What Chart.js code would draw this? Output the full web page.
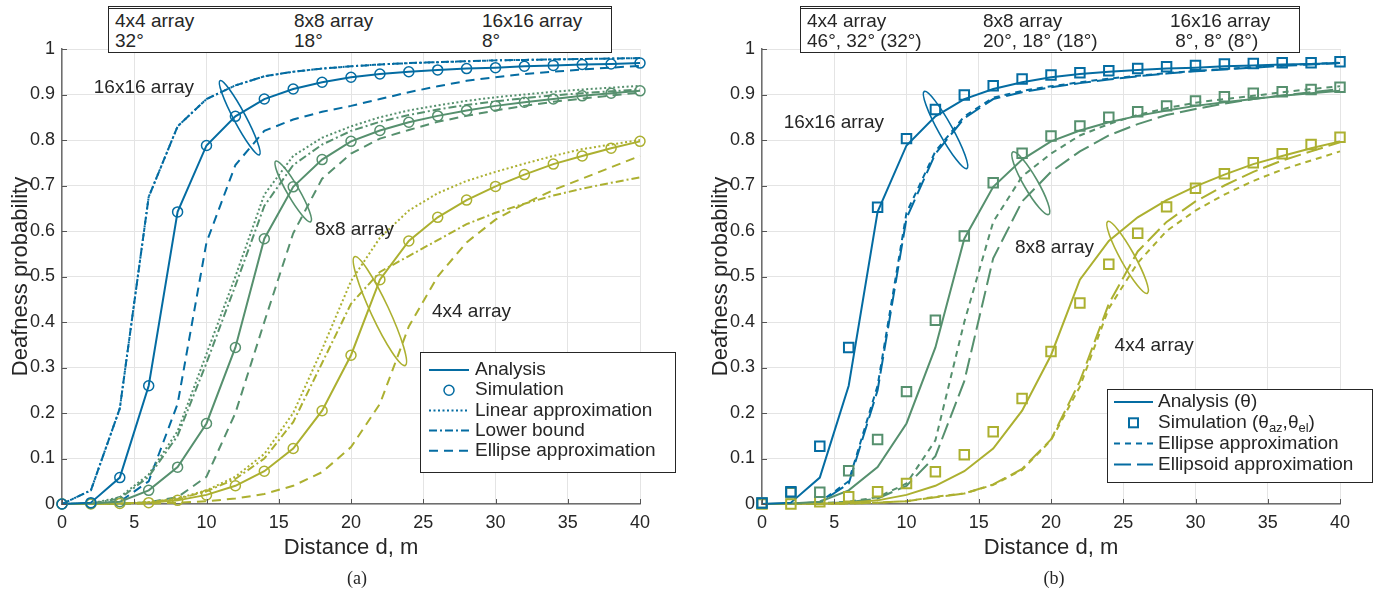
<!DOCTYPE html>
<html>
<head>
<meta charset="utf-8">
<script src="https://cdn.jsdelivr.net/npm/chart.js@4.4.1/dist/chart.umd.min.js"></script>
<style>
  body { margin: 0; background: #fff; width: 1393px; height: 597px; position: relative; overflow: hidden;
         font-family: 'Liberation Sans', Arial, sans-serif; color: #262626; }
  canvas { position: absolute; top: 0; }
  #ca { left: 0; }
  #cb { left: 700px; }
  .tbl { position: absolute; top: 6px; height: 43px; border: 1.5px solid #262626; border-top: 3px double #262626;
         background: #fff; font-size: 19px; line-height: 20px; }
  .tbl div { position: absolute; top: 2px; white-space: pre; }
  .cap { position: absolute; top: 568px; width: 60px; text-align: center;
         font-family: 'Liberation Serif', 'Times New Roman', serif; font-size: 18px; }
</style>
</head>
<body>
<canvas id="ca" width="700" height="597"></canvas>
<canvas id="cb" width="693" height="597"></canvas>

<div class="tbl" style="left:108px; width:502px;">
  <div style="left:6px">4x4 array
32°</div>
  <div style="left:185px">8x8 array
18°</div>
  <div style="left:373px">16x16 array
8°</div>
</div>
<div class="tbl" style="left:800px; width:498px;">
  <div style="left:6px">4x4 array
46°, 32° (32°)</div>
  <div style="left:182px">8x8 array
20°, 18° (18°)</div>
  <div style="left:369px">16x16 array
 8°, 8° (8°)</div>
</div>
<div class="cap" style="left:327px">(a)</div>
<div class="cap" style="left:1024px">(b)</div>

<script>
// distance grid, m
const DIST = [0, 2, 4, 6, 8, 10, 12, 14, 16, 18, 20, 22, 24, 26, 28, 30, 32, 34, 36, 38, 40];

// analysis (same curves in both panels)
const ANA_16 = [0, 0.003, 0.058, 0.26, 0.642, 0.788, 0.852, 0.89, 0.912, 0.927, 0.938, 0.945, 0.95, 0.954, 0.957, 0.959, 0.962, 0.964, 0.966, 0.967, 0.969];
const ANA_8  = [0, 0.001, 0.005, 0.03, 0.081, 0.177, 0.344, 0.583, 0.697, 0.757, 0.797, 0.821, 0.839, 0.853, 0.865, 0.875, 0.883, 0.89, 0.897, 0.903, 0.908];
const ANA_4  = [0, 0, 0.001, 0.003, 0.008, 0.02, 0.04, 0.072, 0.122, 0.205, 0.327, 0.493, 0.578, 0.63, 0.668, 0.698, 0.724, 0.747, 0.765, 0.782, 0.797];

// (a) simulation, linear approximation, lower bound, ellipse approximation
const SIM_16 = [0, 0.003, 0.058, 0.26, 0.642, 0.788, 0.852, 0.89, 0.912, 0.927, 0.938, 0.945, 0.95, 0.954, 0.957, 0.959, 0.962, 0.964, 0.966, 0.967, 0.969];
const SIM_8  = [0, 0.001, 0.005, 0.03, 0.081, 0.177, 0.344, 0.583, 0.697, 0.757, 0.797, 0.821, 0.839, 0.853, 0.865, 0.875, 0.883, 0.89, 0.897, 0.903, 0.908];
const SIM_4  = [0, 0, 0.001, 0.003, 0.008, 0.02, 0.04, 0.072, 0.122, 0.205, 0.327, 0.493, 0.578, 0.63, 0.668, 0.698, 0.724, 0.747, 0.765, 0.782, 0.797];

const LIN_16 = [0, 0.03, 0.21, 0.675, 0.83, 0.89, 0.92, 0.94, 0.95, 0.957, 0.962, 0.966, 0.969, 0.971, 0.973, 0.975, 0.976, 0.977, 0.978, 0.979, 0.98];
const LIN_8  = [0, 0.001, 0.015, 0.065, 0.16, 0.33, 0.5, 0.68, 0.765, 0.805, 0.83, 0.85, 0.865, 0.876, 0.886, 0.894, 0.9, 0.906, 0.911, 0.915, 0.919];
const LIN_4  = [0, 0, 0.001, 0.004, 0.012, 0.03, 0.06, 0.11, 0.2, 0.34, 0.49, 0.585, 0.645, 0.683, 0.71, 0.73, 0.748, 0.765, 0.78, 0.79, 0.8];

const LOW_16 = [0, 0.03, 0.21, 0.675, 0.83, 0.89, 0.92, 0.94, 0.95, 0.957, 0.962, 0.966, 0.969, 0.971, 0.973, 0.975, 0.976, 0.977, 0.978, 0.979, 0.98];
const LOW_8  = [0, 0.001, 0.012, 0.06, 0.15, 0.31, 0.48, 0.655, 0.745, 0.79, 0.82, 0.84, 0.855, 0.867, 0.877, 0.885, 0.892, 0.898, 0.903, 0.907, 0.911];
const LOW_4  = [0, 0, 0.001, 0.004, 0.011, 0.028, 0.055, 0.1, 0.18, 0.31, 0.44, 0.51, 0.545, 0.58, 0.615, 0.64, 0.66, 0.678, 0.693, 0.706, 0.718];

const ELL_16 = [0, 0, 0.005, 0.05, 0.22, 0.575, 0.745, 0.82, 0.845, 0.862, 0.875, 0.89, 0.905, 0.918, 0.93, 0.938, 0.945, 0.95, 0.955, 0.959, 0.963];
const ELL_8  = [0, 0, 0, 0.004, 0.015, 0.06, 0.2, 0.4, 0.595, 0.715, 0.77, 0.803, 0.822, 0.84, 0.853, 0.865, 0.875, 0.884, 0.891, 0.898, 0.904];
const ELL_4  = [0, 0, 0, 0.001, 0.003, 0.006, 0.012, 0.022, 0.04, 0.07, 0.125, 0.22, 0.39, 0.5, 0.575, 0.625, 0.66, 0.69, 0.715, 0.74, 0.765];

// (b) simulation with separate az/el widths, ellipse and ellipsoid approximations
const SQ_16 = [0.002, 0.027, 0.127, 0.344, 0.652, 0.803, 0.867, 0.899, 0.919, 0.934, 0.943, 0.948, 0.952, 0.957, 0.961, 0.964, 0.967, 0.968, 0.97, 0.97, 0.972];
const SQ_8  = [0.002, 0.025, 0.026, 0.073, 0.142, 0.247, 0.404, 0.589, 0.706, 0.771, 0.809, 0.831, 0.85, 0.862, 0.875, 0.886, 0.895, 0.903, 0.906, 0.911, 0.916];
const SQ_4  = [0, 0, 0.005, 0.016, 0.027, 0.045, 0.071, 0.108, 0.159, 0.232, 0.335, 0.442, 0.527, 0.595, 0.653, 0.694, 0.726, 0.75, 0.77, 0.79, 0.806];

const ELB_16 = [0, 0, 0.004, 0.05, 0.26, 0.64, 0.775, 0.852, 0.893, 0.908, 0.918, 0.927, 0.935, 0.941, 0.947, 0.952, 0.956, 0.96, 0.964, 0.967, 0.97];
const ELB_8  = [0, 0, 0.002, 0.005, 0.015, 0.045, 0.14, 0.4, 0.62, 0.72, 0.77, 0.81, 0.835, 0.855, 0.87, 0.882, 0.89, 0.897, 0.905, 0.912, 0.918];
const ELB_4  = [0, 0, 0, 0.001, 0.003, 0.006, 0.016, 0.023, 0.042, 0.075, 0.14, 0.258, 0.43, 0.53, 0.6, 0.645, 0.68, 0.71, 0.735, 0.755, 0.775];

const EOD_16 = [0, 0, 0.003, 0.045, 0.25, 0.628, 0.77, 0.848, 0.89, 0.905, 0.916, 0.925, 0.933, 0.94, 0.946, 0.951, 0.955, 0.959, 0.963, 0.966, 0.969];
const EOD_8  = [0, 0, 0.001, 0.004, 0.012, 0.04, 0.105, 0.27, 0.54, 0.665, 0.73, 0.775, 0.81, 0.835, 0.855, 0.868, 0.88, 0.89, 0.898, 0.905, 0.912];
const EOD_4  = [0, 0, 0, 0.001, 0.003, 0.006, 0.015, 0.023, 0.043, 0.077, 0.142, 0.27, 0.44, 0.555, 0.62, 0.665, 0.7, 0.73, 0.755, 0.775, 0.795];

const X_TICKS = [0, 5, 10, 15, 20, 25, 30, 35, 40];
const Y_TICKS = [0, 0.1, 0.2, 0.3, 0.4, 0.5, 0.6, 0.7, 0.8, 0.9, 1];

const BLUE = 'rgb(4,108,162)';
const GREEN = 'rgb(86,144,110)';
const OLIVE = 'rgb(172,176,48)';
const INK = '#262626';

const DOT = [2, 2.5];
const DASHDOT = [8, 3, 2, 3];
const DASH = [9, 6];
const SHORT = [6, 5];
const LONG = [17, 6];

const pts = arr => DIST.map((d, i) => ({ x: d, y: arr[i] }));

function curve(arr, color, dash) {
  return { data: pts(arr), borderColor: color, borderWidth: 2, borderDash: dash || [],
           pointRadius: 0, fill: false, tension: 0, clip: false };
}
function dots(arr, color, style, r, w) {
  return { data: pts(arr), showLine: false, pointStyle: style, pointRadius: r,
           pointBorderColor: color, pointBorderWidth: w, pointBackgroundColor: 'rgba(0,0,0,0)',
           borderColor: color, clip: false };
}

// rings, array names and the key box
const notes = {
  id: 'notes',
  afterDatasetsDraw(chart, args, o) {
    const { ctx, chartArea: a, scales: { x, y } } = chart;
    ctx.save();
    ctx.strokeStyle = '#555';
    ctx.lineWidth = 1;
    ctx.setLineDash([]);
    for (const v of X_TICKS) {
      const px = Math.round(x.getPixelForValue(v)) + 0.5;
      ctx.beginPath(); ctx.moveTo(px, a.bottom); ctx.lineTo(px, a.bottom - 5); ctx.stroke();
    }
    for (const v of Y_TICKS) {
      const py = Math.round(y.getPixelForValue(v)) + 0.5;
      ctx.beginPath(); ctx.moveTo(a.left, py); ctx.lineTo(a.left + 5, py); ctx.stroke();
    }

    ctx.lineWidth = 1.6;
    for (const r of o.rings) {
      ctx.strokeStyle = r.color;
      ctx.beginPath();
      ctx.ellipse(x.getPixelForValue(r.x), y.getPixelForValue(r.y), r.a, r.b, r.rot * Math.PI / 180, 0, 2 * Math.PI);
      ctx.stroke();
    }

    ctx.fillStyle = INK;
    ctx.font = "19px 'Liberation Sans', Arial, sans-serif";
    ctx.textBaseline = 'middle';
    for (const t of o.tags) ctx.fillText(t.text, x.getPixelForValue(t.x), y.getPixelForValue(t.y));

    const k = o.key;
    ctx.fillStyle = '#fff';
    ctx.fillRect(k.x, k.y, k.w, k.h);
    ctx.strokeStyle = INK;
    ctx.lineWidth = 1;
    ctx.strokeRect(k.x + 0.5, k.y + 0.5, k.w, k.h);
    k.rows.forEach((row, i) => {
      const ry = k.y0 + i * k.dy;
      ctx.strokeStyle = BLUE;
      ctx.lineWidth = 2;
      if (row.mark === 'circle') {
        ctx.setLineDash([]); ctx.lineWidth = 1.5;
        ctx.beginPath(); ctx.arc((k.sx + k.ex) / 2, ry, 5, 0, 2 * Math.PI); ctx.stroke();
      } else if (row.mark === 'rect') {
        ctx.setLineDash([]);
        ctx.strokeRect((k.sx + k.ex) / 2 - 4.5, ry - 4.5, 9, 9);
      } else {
        ctx.setLineDash(row.dash || []);
        ctx.beginPath(); ctx.moveTo(k.sx, ry); ctx.lineTo(k.ex, ry); ctx.stroke();
      }
      ctx.setLineDash([]);
      ctx.fillStyle = INK;
      let tx = k.tx;
      for (const seg of row.text) {
        if (seg.sub) {
          ctx.font = "13px 'Liberation Sans', Arial, sans-serif";
          ctx.fillText(seg.s, tx, ry + 6);
        } else {
          ctx.font = "19px 'Liberation Sans', Arial, sans-serif";
          ctx.fillText(seg.s, tx, ry);
        }
        tx += ctx.measureText(seg.s).width;
      }
    });
    ctx.restore();
  }
};

const FONT = "'Liberation Sans', Arial, sans-serif";
const TICK_FONT = "'Liberation Sans Narrow', 'Arial Narrow', 'Liberation Sans', Arial, sans-serif";

function axes() {
  return {
    x: {
      type: 'linear', min: 0, max: 40,
      afterBuildTicks: s => { s.ticks = X_TICKS.map(v => ({ value: v })); },
      afterFit: s => { s.height = 93; },
      ticks: { padding: 8, color: INK, font: { family: TICK_FONT, size: 18 }, maxRotation: 0 },
      grid: { color: '#e4e4e4', lineWidth: 1, drawTicks: false },
      border: { display: true, color: '#6e6e6e', width: 1.5 },
      title: { display: true, text: 'Distance d, m', color: INK, font: { family: FONT, size: 22 },
               padding: { top: 0, bottom: 36 } }
    },
    y: {
      type: 'linear', min: 0, max: 1,
      afterBuildTicks: s => { s.ticks = Y_TICKS.map(v => ({ value: v })); },
      afterFit: s => { s.width = 62; },
      ticks: { padding: 7, color: INK, font: { family: TICK_FONT, size: 18 },
               callback: v => String(+v.toFixed(1)) },
      grid: { color: '#e4e4e4', lineWidth: 1, drawTicks: false },
      border: { display: true, color: '#6e6e6e', width: 1.5 },
      title: { display: true, text: 'Deafness probability', color: INK, font: { family: FONT, size: 22 },
               padding: { top: 8, bottom: 0 } }
    }
  };
}

function build(id, datasets, padRight, noteOpts) {
  return new Chart(document.getElementById(id), {
    type: 'line',
    data: { datasets },
    options: {
      responsive: false, animation: false, devicePixelRatio: 1,
      layout: { padding: { left: 0, top: 49, right: padRight, bottom: 0 } },
      scales: axes(),
      plugins: { legend: { display: false }, tooltip: { enabled: false }, notes: noteOpts }
    },
    plugins: [notes]
  });
}

build('ca', [
  dots(SIM_16, BLUE, 'circle', 5, 1.5), dots(SIM_8, GREEN, 'circle', 5, 1.5), dots(SIM_4, OLIVE, 'circle', 5, 1.5),
  curve(ANA_16, BLUE), curve(ANA_8, GREEN), curve(ANA_4, OLIVE),
  curve(LIN_16, BLUE, DOT), curve(LIN_8, GREEN, DOT), curve(LIN_4, OLIVE, DOT),
  curve(LOW_16, BLUE, DASHDOT), curve(LOW_8, GREEN, DASHDOT), curve(LOW_4, OLIVE, DASHDOT),
  curve(ELL_16, BLUE, DASH), curve(ELL_8, GREEN, DASH), curve(ELL_4, OLIVE, DASH)
], 60, {
  rings: [
    { x: 12.3, y: 0.849, a: 6, b: 42, rot: -28, color: BLUE },
    { x: 16.0, y: 0.687, a: 6, b: 35, rot: -30, color: GREEN },
    { x: 22.0, y: 0.424, a: 9, b: 60, rot: -25, color: OLIVE }
  ],
  tags: [
    { text: '16x16 array', x: 2.2, y: 0.914 },
    { text: '8x8 array', x: 17.5, y: 0.602 },
    { text: '4x4 array', x: 25.6, y: 0.422 }
  ],
  key: {
    x: 420, y: 352, w: 255, h: 120, y0: 370, dy: 20.2, sx: 429, ex: 469, tx: 475,
    rows: [
      { text: [{ s: 'Analysis' }] },
      { text: [{ s: 'Simulation' }], mark: 'circle' },
      { text: [{ s: 'Linear approximation' }], dash: DOT },
      { text: [{ s: 'Lower bound' }], dash: DASHDOT },
      { text: [{ s: 'Ellipse approximation' }], dash: DASH }
    ]
  }
});

build('cb', [
  dots(SQ_16, BLUE, 'rect', 6.7, 2), dots(SQ_8, GREEN, 'rect', 6.7, 2), dots(SQ_4, OLIVE, 'rect', 6.7, 2),
  curve(ANA_16, BLUE), curve(ANA_8, GREEN), curve(ANA_4, OLIVE),
  curve(ELB_16, BLUE, SHORT), curve(ELB_8, GREEN, SHORT), curve(ELB_4, OLIVE, SHORT),
  curve(EOD_16, BLUE, LONG), curve(EOD_8, GREEN, LONG), curve(EOD_4, OLIVE, LONG)
], 53, {
  rings: [
    { x: 12.7, y: 0.822, a: 7, b: 44, rot: -29, color: BLUE },
    { x: 18.6, y: 0.705, a: 7, b: 36, rot: -30, color: GREEN },
    { x: 25.3, y: 0.542, a: 7, b: 41, rot: -29, color: OLIVE }
  ],
  tags: [
    { text: '16x16 array', x: 1.5, y: 0.837 },
    { text: '8x8 array', x: 17.5, y: 0.563 },
    { text: '4x4 array', x: 24.4, y: 0.347 }
  ],
  key: {
    x: 407, y: 389, w: 265, h: 93, y0: 402, dy: 20.8, sx: 414, ex: 453, tx: 458,
    rows: [
      { text: [{ s: 'Analysis (θ)' }] },
      { text: [{ s: 'Simulation (θ' }, { s: 'az', sub: true }, { s: ',θ' }, { s: 'el', sub: true }, { s: ')' }], mark: 'rect' },
      { text: [{ s: 'Ellipse approximation' }], dash: SHORT },
      { text: [{ s: 'Ellipsoid approximation' }], dash: LONG }
    ]
  }
});
</script>
</body>
</html>
